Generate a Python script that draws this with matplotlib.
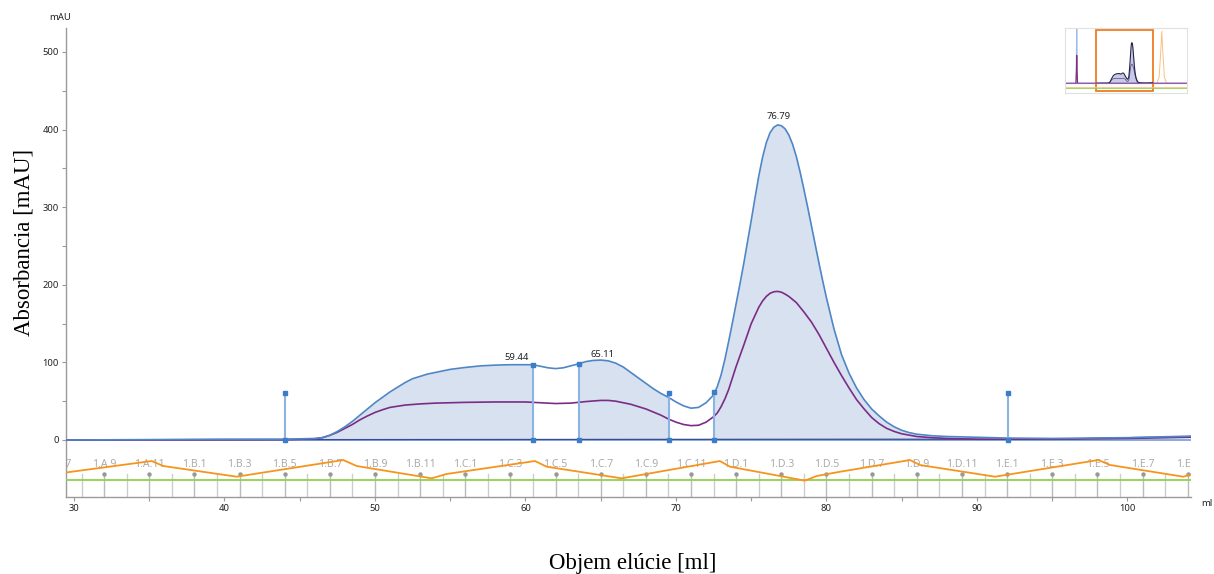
import matplotlib
matplotlib.use("Agg")
import matplotlib.pyplot as plt
from matplotlib.patches import Rectangle

# ---------------- data ----------------
uv1_ml = [29.5, 35, 40, 44, 45, 46, 46.5, 47, 47.5, 48, 48.5, 49, 49.5, 50, 50.5, 51, 51.5, 52,
          52.5, 53, 53.5, 54, 54.5, 55, 56, 57, 58, 59, 60, 60.5, 61, 61.5, 62, 62.5, 63, 63.5,
          64, 64.5, 65, 65.5, 66, 66.5, 67, 67.5, 68, 68.5, 69, 69.5, 70, 70.5, 71, 71.5, 72,
          72.5, 72.75, 73, 73.25, 73.5, 73.75, 74, 74.25, 74.5, 74.75, 75, 75.25, 75.5, 75.75,
          76, 76.25, 76.5, 76.75, 77, 77.25, 77.5, 77.75, 78, 78.25, 78.5, 78.75, 79, 79.25,
          79.5, 79.75, 80, 80.5, 81, 81.5, 82, 82.5, 83, 83.5, 84, 84.5, 85, 85.5, 86, 87, 88,
          90, 92, 95, 100, 104.2]
uv1_mau = [0, 0.5, 1, 1, 1.5, 2, 3, 6, 11, 17, 24, 32, 40, 48, 55, 62, 68, 74,
           79, 82, 85, 87, 89, 91, 93.5, 95.5, 96.5, 97, 97, 97, 95, 93, 92, 93, 95.5, 98,
           101, 102.5, 103, 102, 99, 94, 87, 80, 73, 66, 60, 55, 49, 44, 41, 42, 48,
           58, 69, 84, 104, 127, 151, 176, 201, 227, 255, 283, 312, 340, 364,
           383, 396, 403, 406, 405, 401, 393, 381, 365, 345, 323, 300, 276, 252,
           228, 205, 183, 143, 110, 86, 67, 52, 40, 31, 23, 17, 12.5, 9.5, 7.5, 5.5, 4.5,
           3.5, 2.5, 2, 3, 5]

uv2_ml = [29.5, 44, 46, 46.5, 47, 47.5, 48, 48.5, 49, 49.5, 50, 50.5, 51, 52, 53, 54, 56, 58,
          60, 61, 62, 63, 64, 65, 65.5, 66, 67, 68, 69, 69.5, 70, 70.5, 71, 71.5, 72, 72.5,
          72.75, 73, 73.25, 73.5, 73.75, 74, 74.5, 75, 75.5, 75.75, 76, 76.25, 76.5, 76.75,
          77, 77.25, 77.5, 78, 78.5, 79, 79.5, 80, 80.5, 81, 81.5, 82, 82.5, 83, 83.5, 84,
          84.5, 85, 86, 87, 88, 90, 95, 100, 104.2]
uv2_mau = [0, 0.5, 1.5, 3, 6, 10, 15, 20, 26, 31, 35.5, 39, 42, 45, 46.5, 47.5, 48.5, 49,
           49, 48, 47, 47.5, 49.5, 51, 51, 50, 46, 40, 32, 27, 23, 20, 18.5, 19, 23, 30,
           35, 43, 53, 65, 80, 95, 122, 150, 171, 179, 185, 189, 191, 191.5,
           190.5, 188, 185, 177, 165, 152, 136, 118, 100, 83, 67, 52, 40, 29, 21, 15,
           11, 8, 4.5, 3, 2, 1, 1, 2, 3.5]

uv3_ml = [29.5, 46, 84, 88, 92, 96, 100, 104.2]
uv3_mau = [0.3, 0.5, 1, 1, 1, 1.5, 3, 4.5]

cond_ml = [29.07, 35.16, 35.93, 40.81, 47.89, 48.78, 53.77, 54.76, 60.63, 61.41, 66.39, 72.92,
           73.59, 78.57, 79.35, 80.90, 85.55, 86.21, 91.20, 98.06, 98.84, 103.71, 104.27]
cond_mau = [-42.9, -27.1, -33.5, -47.3, -25.8, -33.5, -49.4, -43.8, -27.1, -34.4, -49.4, -27.1,
            -34.4, -52.4, -46.4, -40.9, -25.8, -32.2, -47.3, -25.8, -32.2, -47.3, -44.2]
green_level = -51.5

# fraction marks (labelled every second fraction)
frac_labels = ["1.A.7", "1.A.9", "1.A.11", "1.B.1", "1.B.3", "1.B.5", "1.B.7", "1.B.9", "1.B.11",
               "1.C.1", "1.C.3", "1.C.5", "1.C.7", "1.C.9", "1.C.11", "1.D.1", "1.D.3", "1.D.5",
               "1.D.7", "1.D.9", "1.D.11", "1.E.1", "1.E.3", "1.E.5", "1.E.7", "1.E.9"]
frac_label_ml = [29, 32, 35, 38, 41, 44, 47, 50, 53, 56, 59, 62, 65, 68, 71, 74, 77, 80,
                 83, 86, 89, 92, 95, 98, 101, 104]
frac_odd_ml = [30.5, 33.5, 36.5, 39.5, 42.5, 45.5, 48.5, 51.5, 54.5, 57.5, 60.5, 63.5, 66.5,
               69.5, 72.5, 75.5, 78.5, 81.5, 84.5, 87.5, 90.5, 93.5, 96.5, 99.5, 102.5]

peak_ret = [59.44, 65.11, 76.79]
peak_lab_y = [100, 105, 411]
bound_ml = [44.02, 60.5, 63.55, 69.53, 72.52, 92.06]
bound_top = [60, 97, 98, 60, 61.5, 60]
fill_ranges = [(44.02, 60.5), (63.55, 69.53), (72.52, 92.06)]

# overview thumbnail data
ov_spike_ml = [-10, 2.5, 3.2, 3.6, 4.0, 4.7, 152]
ov_blue_spike = [0, 0, 300, 650, 300, 0, 0]
ov_purple_spike = [0, 0, 120, 280, 120, 0, 0]
ov_orange_ml = [-10, 110, 113, 115, 116.5, 118, 120, 123, 152]
ov_orange = [0, 0, 60, 300, 520, 300, 60, 0, 0]

# ---------------- figure ----------------
W, H = 1214, 574
fig = plt.figure(figsize=(W / 100, H / 100), dpi=100)
ax = fig.add_axes([66 / W, 1 - 497 / H, (1191 - 66) / W, (497 - 28) / H])
ax.set_xlim(29.47, 104.22)
ax.set_ylim(-73.45, 530.9)

fill_c = "#d7e1ef"
blue_c = "#4f86c6"
purple_c = "#7b2d86"

for a, b in fill_ranges:
    poly = ax.fill_between(uv1_ml, uv1_mau, 0, color=fill_c, lw=0, zorder=1)
    clip = Rectangle((a, -10), b - a, 600, transform=ax.transData)
    poly.set_clip_path(clip)

ax.axhline(0, color="#6f9fd8", lw=1.2, zorder=2)
ax.plot(uv3_ml, uv3_mau, color="#3a4a98", lw=0.9, zorder=3)
ax.plot(uv2_ml, uv2_mau, color=purple_c, lw=1.2, zorder=4)
ax.plot(uv1_ml, uv1_mau, color=blue_c, lw=1.2, zorder=5)

for x, t in zip(bound_ml, bound_top):
    ax.plot([x, x], [0, t], color="#8db3e2", lw=1.5, zorder=6)
    ax.plot([x, x], [0, t], ls="none", marker="s", ms=3.0, color="#3d7cc9", zorder=7)

for x, y in zip(peak_ret, peak_lab_y):
    ax.text(x, y, f"{x:.2f}", ha="center", va="bottom", fontsize=6.8,
            family="Noto Sans", color="#222222", zorder=8)

# fraction area
ax.axhline(green_level, color="#8fd14f", lw=1.3, zorder=3)
for x in frac_odd_ml:
    ax.plot([x, x], [-73.45, -43.8], color="#cccccc", lw=1.0, zorder=2)
for x in frac_label_ml:
    ax.plot([x, x], [-73.45, -43.8], color="#bbbbbb", lw=1.0, zorder=2)
    ax.plot([x], [-43.8], marker="o", ms=2.2, color="#999999", zorder=3, clip_on=True)
for x, s in zip(frac_label_ml, frac_labels):
    ax.text(x, -32, s, ha="center", va="center", fontsize=7.6, family="Noto Sans",
            color="#ababab", zorder=2, clip_on=True)
ax.plot(cond_ml, cond_mau, color="#f7941d", lw=1.3, zorder=4)

# axes styling
for s in ["top", "right"]:
    ax.spines[s].set_visible(False)
for s in ["left", "bottom"]:
    ax.spines[s].set_color("#9a9a9a")
    ax.spines[s].set_linewidth(1.0)
ax.set_xticks([30, 40, 50, 60, 70, 80, 90, 100])
ax.set_xticks([35, 45, 55, 65, 75, 85, 95], minor=True)
ax.set_yticks([0, 100, 200, 300, 400, 500])
ax.set_yticks([50, 150, 250, 350, 450], minor=True)
ax.tick_params(axis="both", which="both", colors="#9a9a9a", labelcolor="#222222",
               labelsize=6.8, length=3, width=0.8, pad=2)
for lab in ax.get_xticklabels() + ax.get_yticklabels():
    lab.set_family("Noto Sans")

fig.text(60 / W, 1 - 17 / H, "mAU", ha="center", va="center", fontsize=6.8,
         family="Noto Sans", color="#222222")
fig.text(1207 / W, 1 - 503 / H, "ml", ha="center", va="center", fontsize=6.8,
         family="Noto Sans", color="#222222")
fig.text(24 / W, 1 - 242 / H, "Absorbancia [mAU]", rotation=90, ha="center", va="center",
         fontsize=16.5, family="Liberation Serif", color="black")
fig.text(633 / W, 1 - 563 / H, "Objem elúcie [ml]", ha="center", va="center",
         fontsize=16.5, family="Liberation Serif", color="black")

# overview thumbnail
ov = fig.add_axes([1065 / W, 1 - 93 / H, 122 / W, 65 / H])
ov.set_xlim(-12, 150)
ov.set_ylim(-97, 553)
ov.set_xticks([]); ov.set_yticks([])
for s in ov.spines.values():
    s.set_color("#e0e0e0")
ov.axhline(green_level, color="#8fd14f", lw=0.6)
ov.axhline(-40, color="#f7c27a", lw=0.6)
ov.plot(ov_orange_ml, ov_orange, color="#f7a54a", lw=0.7, alpha=0.7)
ov.plot(ov_spike_ml, ov_blue_spike, color="#9dbde6", lw=0.8)
ov.plot(ov_spike_ml, ov_purple_spike, color="#8a2a7a", lw=0.8)
ov.fill_between(uv1_ml, uv1_mau, 0, color="#c9cbe6", lw=0)
ov.plot(uv2_ml, uv2_mau, color="#6a5a9a", lw=0.6)
ov.plot(uv1_ml, uv1_mau, color="#23244a", lw=0.8)
ov.axhline(0, color="#8a5fb0", lw=0.8)
ov.add_patch(Rectangle((29.47, -73.45), 104.22 - 29.47, 530.9 + 73.45, fill=False,
                       edgecolor="#ef7d22", lw=1.3))

fig.savefig("out.png", dpi=100)
